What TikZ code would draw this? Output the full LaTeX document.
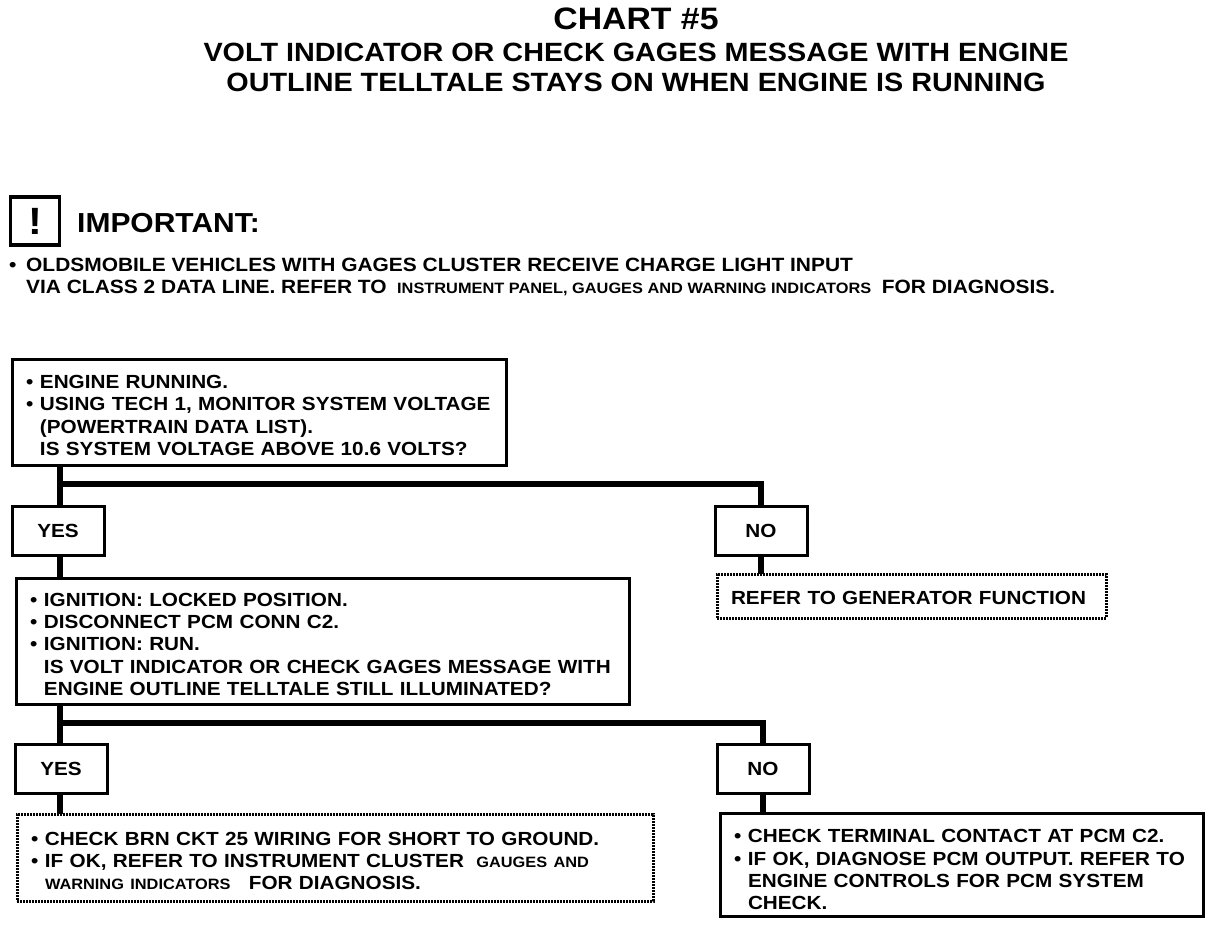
\documentclass[tikz,border=0pt]{standalone}
\usepackage{fontspec}
\setmainfont{Liberation Sans}[FakeStretch=1.09]
\usetikzlibrary{positioning}
\newcommand{\bul}{\makebox[14pt][l]{\textbullet}}
\newcommand{\ind}{\hspace*{14pt}}
\newcommand{\topgap}[1]{\rule{0pt}{#1pt}}
\newcommand{\manualref}[1]{\hspace{6pt}{\fontsize{15}{15}\selectfont #1}\hspace{6pt}}

\begin{document}
\begin{tikzpicture}[x=1pt, y=-1pt,
    box/.style={draw, line width=3pt, anchor=north west, outer sep=0pt, inner xsep=14pt,
                inner ysep=0pt, align=left, font=\fontsize{19}{22.3}\selectfont\bfseries},
    dbox/.style={box, dash pattern=on 2pt off 1pt, line width=3pt},
    ans/.style={box, align=center, inner xsep=0pt, minimum width=92pt, minimum height=49pt},
    link/.style={line width=6.5pt},
    head/.style={align=center, font=\fontsize{26.4}{30}\selectfont\bfseries}
  ]
    \useasboundingbox (0,0) rectangle (1216,926);

    % Title
    \node[head, font=\fontsize{31}{31}\selectfont\bfseries] (title) at (636,19) {CHART \#5};
    \node[head] (sub) at (636,67) {VOLT INDICATOR OR CHECK GAGES MESSAGE WITH ENGINE\\
      OUTLINE TELLTALE STAYS ON WHEN ENGINE IS RUNNING};

    % Important note
    \node[draw, line width=3.5pt, minimum width=49pt, minimum height=48pt, inner sep=0pt,
      font=\fontsize{38}{38}\selectfont\bfseries] (icon) at (35,221) {!};
    \node[anchor=west, inner sep=0pt, font=\fontsize{27.5}{27.5}\selectfont\bfseries] (imp) at (77,223) {IMPORTANT:};
    \node[anchor=north west, inner sep=0pt, align=left, font=\fontsize{19.2}{22}\selectfont\bfseries] (note) at (9,258)
      {\makebox[17pt][l]{\textbullet}OLDSMOBILE VEHICLES WITH GAGES CLUSTER RECEIVE CHARGE LIGHT INPUT\\
       \hspace*{17pt}VIA CLASS 2 DATA LINE. REFER TO\manualref{ INSTRUMENT PANEL, GAUGES AND WARNING INDICATORS }FOR DIAGNOSIS.};

    % First check
    \node[box, text width=466pt, minimum height=106pt] (volts) at (12,359)
      {\topgap{20}\bul ENGINE RUNNING.\\
       \bul USING TECH 1, MONITOR SYSTEM VOLTAGE\\
       \ind (POWERTRAIN DATA LIST).\\
       \ind IS SYSTEM VOLTAGE ABOVE 10.6 VOLTS?};
    \node[ans] (yesa) at (12,506) {YES};
    \node[ans] (noa) at (715,506) {NO};
    \node[dbox, text width=361pt, minimum height=44pt] (gen) at (717,574) {\topgap{18}REFER TO GENERATOR FUNCTION};

    % Second check
    \node[box, text width=585pt, minimum height=126pt] (lamp) at (16,578)
      {\topgap{20}\bul IGNITION: LOCKED POSITION.\\
       \bul DISCONNECT PCM CONN C2.\\
       \bul IGNITION: RUN.\\
       \ind IS VOLT INDICATOR OR CHECK GAGES MESSAGE WITH\\
       \ind ENGINE OUTLINE TELLTALE STILL ILLUMINATED?};
    \node[ans] (yesb) at (15,744) {YES};
    \node[ans] (nob) at (717,744) {NO};
    \node[dbox, text width=608pt, minimum height=87pt] (brn) at (17,814)
      {\topgap{20}\bul CHECK BRN CKT 25 WIRING FOR SHORT TO GROUND.\\
       \bul IF OK, REFER TO INSTRUMENT CLUSTER\manualref{ GAUGES AND}\\
       \ind{\fontsize{15}{15}\selectfont WARNING INDICATORS}\hspace{12pt} FOR DIAGNOSIS.};
    \node[box, text width=455pt, minimum height=103pt] (pcm) at (720,813)
      {\topgap{24}\bul CHECK TERMINAL CONTACT AT PCM C2.\\
       \bul IF OK, DIAGNOSE PCM OUTPUT. REFER TO\\
       \ind ENGINE CONTROLS FOR PCM SYSTEM\\
       \ind CHECK.};

    % Connectors
    \coordinate (busa) at (60,484);
    \coordinate (busb) at (60,723);
    \draw[link] (yesa.north -| busa) -- (volts.south -| busa);
    \draw[link] (busa) -| (noa.north);
    \draw[link] (yesa.south -| busa) -- (lamp.north -| busa);
    \draw[link] (noa.south) -- (gen.north -| noa.south);
    \draw[link] (yesb.north -| busb) -- (lamp.south -| busb);
    \draw[link] (busb) -| (nob.north);
    \draw[link] (yesb.south -| busb) -- (brn.north -| busb);
    \draw[link] (nob.south) -- (pcm.north -| nob.south);
  \end{tikzpicture}
\end{document}
